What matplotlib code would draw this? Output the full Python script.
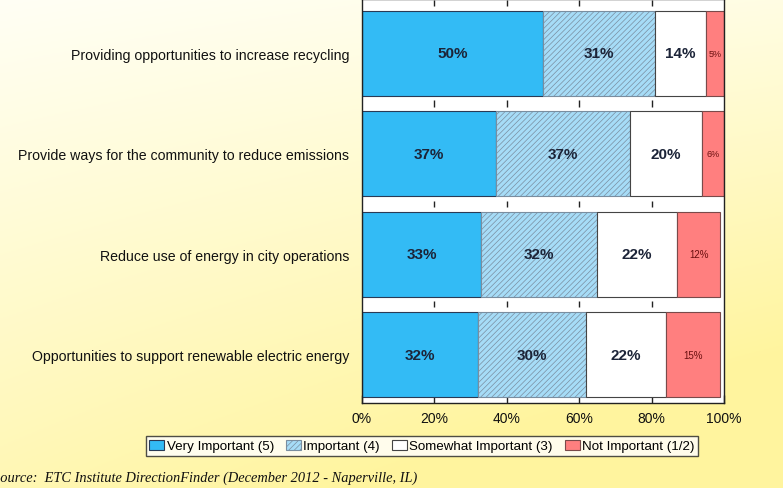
import numpy as np
import matplotlib
matplotlib.use("Agg")
import matplotlib.pyplot as plt

categories = [
    "Providing opportunities to increase recycling",
    "Provide ways for the community to reduce emissions",
    "Reduce use of energy in city operations",
    "Opportunities to support renewable electric energy",
]
very_important = [50, 37, 33, 32]
important = [31, 37, 32, 30]
somewhat_important = [14, 20, 22, 22]
not_important = [5, 6, 12, 15]
series_names = ["Very Important (5)", "Important (4)", "Somewhat Important (3)", "Not Important (1/2)"]
x_ticks = [0, 20, 40, 60, 80, 100]

plt.rcParams["font.family"] = ["Liberation Sans", "DejaVu Sans"]

fig = plt.figure(figsize=(7.83, 4.89), dpi=100)

# yellow gradient background
bg = fig.add_axes([0, 0, 1, 1], zorder=-10)
gx, gy = np.meshgrid(np.linspace(0, 1, 200), np.linspace(0, 1, 200))
t = np.clip(0.75 * gy + 0.35 * gx * gy + 0.2 * gx, 0, 1)
top = np.array([1.0, 1.0, 0.96])
bottom = np.array([1.0, 0.96, 0.62])
img = top[None, None, :] * (1 - t[..., None]) + bottom[None, None, :] * t[..., None]
bg.imshow(img, aspect="auto", extent=[0, 1, 0, 1], origin="upper")
bg.axis("off")

ax = fig.add_axes([0.4623, 0.174, 0.4623, 0.826])
ax.set_facecolor("white")

y = np.arange(len(categories))
bar_h = 0.85
series = [very_important, important, somewhat_important, not_important]
faces = ["#33bbf5", "#a6dcf7", "white", "#ff7f7f"]
edges = ["#2a3a55", "#7a8ea0", "#444444", "#7a4a4a"]
hatches = [None, "//////", None, None]

plt.rcParams["hatch.color"] = "#78c6ec"
plt.rcParams["hatch.linewidth"] = 0.5

left = np.zeros(len(categories))
handles = []
for k, vals in enumerate(series):
    vals = np.array(vals, dtype=float)
    bars = ax.barh(y, vals, left=left, height=bar_h, color=faces[k],
                   edgecolor=edges[k], linewidth=0.8, hatch=hatches[k],
                   label=series_names[k], zorder=2)
    handles.append(bars)
    for yi, (l, v) in enumerate(zip(left, vals)):
        if k == 3:
            fs = 6.5 if v < 10 else 7
            ax.text(l + v / 2, yi, f"{int(v)}%", ha="center", va="center",
                    fontsize=fs, color="#6a1010", zorder=3)
        else:
            ax.text(l + v / 2, yi, f"{int(v)}%", ha="center", va="center",
                    fontsize=11, fontweight="bold", color="#1c2438", zorder=3)
    left += vals

ax.set_xlim(0, 100)
ax.set_ylim(3.48, -0.54)
ax.set_yticks(y)
ax.set_yticklabels(categories, fontsize=10.2, color="#111111")
ax.tick_params(axis="y", length=0, pad=9)
ax.set_xticks(x_ticks)
ax.set_xticklabels([f"{v}%" for v in x_ticks], fontsize=10, color="#111111")
ax.tick_params(axis="x", direction="in", length=6, width=1, color="#222222", pad=6)

# short tick marks visible in the gaps between bars
for g in np.arange(-0.5, len(categories) - 1, 1.0):
    ax.vlines(x_ticks[1:-1], g - 0.03, g + 0.03, color="#222222", linewidth=1, zorder=1)

for s in ax.spines.values():
    s.set_color("#222222")
    s.set_linewidth(1)

leg = fig.legend(handles=handles, loc="center", bbox_to_anchor=(0.539, 0.086),
                 ncol=4, fontsize=9.6, frameon=True, fancybox=False,
                 handlelength=1.1, handleheight=0.8, handletextpad=0.2,
                 columnspacing=0.9, borderpad=0.25)
leg.get_frame().set_edgecolor("#222222")
leg.get_frame().set_linewidth(1)
leg.get_frame().set_facecolor("white")

fig.text(-0.009, 0.022, "Source:  ETC Institute DirectionFinder (December 2012 - Naperville, IL)",
         fontsize=10.4, fontstyle="italic", family=["Liberation Serif", "DejaVu Serif"],
         color="#111111", ha="left", va="center")

fig.savefig("out.png", dpi=100)
